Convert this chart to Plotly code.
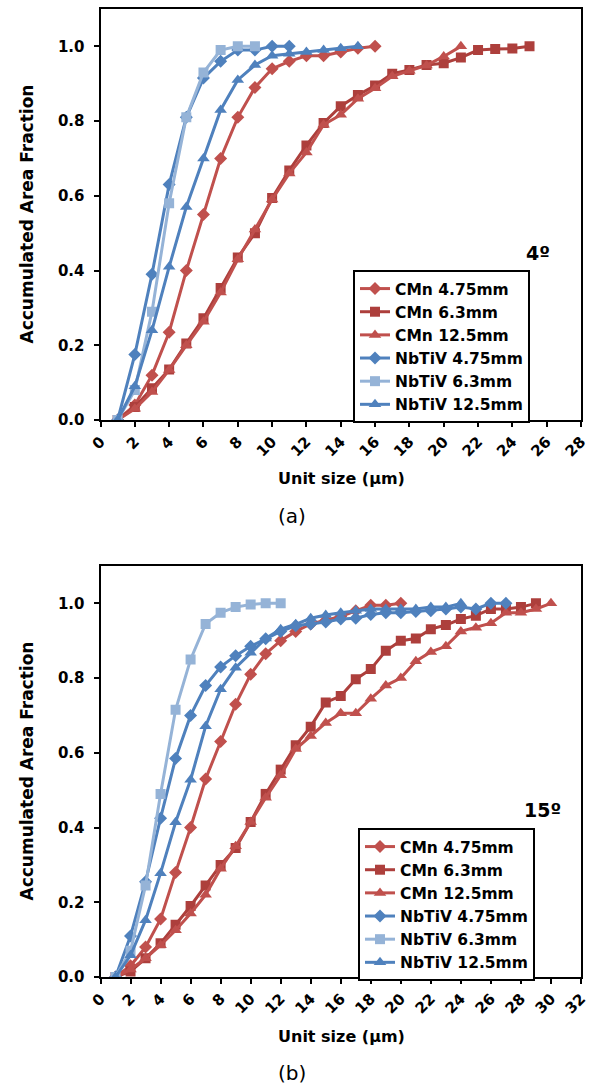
import plotly.graph_objects as go

# ---------------- data (a) 4º ----------------
cmn475_a = [0, 0.04, 0.12, 0.235, 0.40, 0.55, 0.70, 0.81, 0.89, 0.94, 0.96, 0.975, 0.975, 0.985, 0.995, 1.0]
cmn63_a = [0, 0.035, 0.085, 0.135, 0.205, 0.272, 0.353, 0.435, 0.50, 0.594, 0.668, 0.735, 0.795, 0.84,
           0.87, 0.895, 0.927, 0.937, 0.95, 0.955, 0.97, 0.99, 0.993, 0.994, 1.0]
cmn125_a = [0, 0.03, 0.075, 0.134, 0.20, 0.263, 0.341, 0.43, 0.51, 0.59, 0.66, 0.716, 0.79, 0.817, 0.86,
            0.888, 0.92, 0.935, 0.949, 0.973, 1.0]
nb475_a = [0, 0.175, 0.39, 0.63, 0.81, 0.915, 0.96, 0.99, 0.99, 1.0, 1.0]
nb63_a = [0, 0.08, 0.29, 0.58, 0.81, 0.93, 0.99, 1.0, 1.0]
nb125_a = [0, 0.09, 0.24, 0.41, 0.57, 0.70, 0.83, 0.91, 0.95, 0.975, 0.98, 0.985, 0.99, 0.995, 1.0]

# ---------------- data (b) 15º ----------------
cmn475_b = [0, 0.03, 0.08, 0.155, 0.28, 0.40, 0.53, 0.63, 0.73, 0.81, 0.865, 0.90, 0.925, 0.945, 0.955,
            0.965, 0.98, 0.995, 0.995, 1.0]
cmn63_b = [0, 0.015, 0.05, 0.09, 0.14, 0.19, 0.245, 0.30, 0.345, 0.415, 0.49, 0.555, 0.62, 0.67, 0.735,
           0.752, 0.797, 0.824, 0.873, 0.90, 0.906, 0.931, 0.942, 0.958, 0.967, 0.985, 0.985, 0.99, 1.0]
cmn125_b = [0, 0.02, 0.05, 0.085, 0.125, 0.17, 0.22, 0.29, 0.35, 0.415, 0.48, 0.54, 0.61, 0.645, 0.68,
            0.706, 0.706, 0.745, 0.78, 0.80, 0.845, 0.87, 0.885, 0.925, 0.935, 0.947, 0.975, 0.975, 0.985, 1.0]
nb475_b = [0, 0.11, 0.255, 0.425, 0.585, 0.70, 0.78, 0.83, 0.86, 0.885, 0.905, 0.925, 0.94, 0.945, 0.95,
           0.958, 0.96, 0.97, 0.975, 0.975, 0.978, 0.98, 0.985, 0.99, 0.985, 1.0, 1.0]
nb63_b = [0, 0.07, 0.245, 0.49, 0.715, 0.85, 0.945, 0.975, 0.99, 0.997, 1.0, 1.0]
nb125_b = [0, 0.058, 0.152, 0.278, 0.414, 0.528, 0.671, 0.77, 0.828, 0.868, 0.906, 0.931, 0.944, 0.96,
           0.969, 0.975, 0.98, 0.985, 0.985, 0.985, 0.985, 0.99, 0.99, 1.0]

names = ["CMn 4.75mm", "CMn 6.3mm", "CMn 12.5mm", "NbTiV 4.75mm", "NbTiV 6.3mm", "NbTiV 12.5mm"]
colors = ["#C0504D", "#AD3F3C", "#C0504D", "#4F81BD", "#95B3D7", "#4F81BD"]
symbols = ["diamond", "square", "triangle-up", "diamond", "square", "triangle-up"]
msizes = [10, 10, 11, 10, 10, 11]

W, H = 590, 1088
FONT = "DejaVu Sans, Arial, sans-serif"

fig = go.Figure()

sets = [
    ([cmn475_a, cmn63_a, cmn125_a, nb475_a, nb63_a, nb125_a], "x", "y", "legend"),
    ([cmn475_b, cmn63_b, cmn125_b, nb475_b, nb63_b, nb125_b], "x2", "y2", "legend2"),
]
for series, xa, ya, leg in sets:
    for i, ys in enumerate(series):
        fig.add_trace(go.Scatter(
            x=list(range(1, len(ys) + 1)), y=ys, name=names[i],
            mode="lines+markers", xaxis=xa, yaxis=ya, legend=leg,
            line=dict(color=colors[i], width=3),
            marker=dict(symbol=symbols[i], size=msizes[i], color=colors[i]),
        ))

def px_x(p):
    return p / W

def px_y(p):
    return 1 - p / H

xdom = [px_x(100.5), px_x(581)]
axis_common = dict(showline=True, linecolor="black", linewidth=2, mirror=True,
                   ticks="outside", ticklen=5, tickwidth=2, tickcolor="black",
                   showgrid=False, zeroline=False, automargin=False,
                   tickfont=dict(family=FONT, size=15, color="black", weight="bold"))

legfont = dict(family=FONT, size=15.5, color="black", weight="bold")
fig.update_layout(
    width=W, height=H, margin=dict(l=0, r=0, t=0, b=0, autoexpand=False),
    paper_bgcolor="white", plot_bgcolor="white",
    xaxis=dict(domain=xdom, range=[0, 28], dtick=2, tick0=0, tickangle=-45, anchor="y", **axis_common),
    yaxis=dict(domain=[px_y(420), px_y(9)], range=[0, 1.1], dtick=0.2, tick0=0, tickformat=".1f",
               anchor="x", ticklabelstandoff=6, **axis_common),
    xaxis2=dict(domain=xdom, range=[0, 32], dtick=2, tick0=0, tickangle=-45, anchor="y2", **axis_common),
    yaxis2=dict(domain=[px_y(977), px_y(566)], range=[0, 1.1], dtick=0.2, tick0=0, tickformat=".1f",
                anchor="x2", ticklabelstandoff=6, **axis_common),
    legend=dict(x=px_x(353), y=px_y(270), xanchor="left", yanchor="top",
                bordercolor="black", borderwidth=2, bgcolor="white",
                font=legfont, tracegroupgap=0, itemwidth=30),
    legend2=dict(x=px_x(358), y=px_y(828), xanchor="left", yanchor="top",
                 bordercolor="black", borderwidth=2, bgcolor="white",
                 font=legfont, tracegroupgap=0, itemwidth=30),
    showlegend=True,
)

ann = []
bold = dict(family=FONT, size=17, color="black", weight="bold")
for yc in [214.5, 771.5]:
    ann.append(dict(text="Accumulated Area Fraction", x=px_x(26), y=px_y(yc), xref="paper", yref="paper",
                    textangle=-90, showarrow=False, font=bold, xanchor="center", yanchor="middle"))
xt = dict(family=FONT, size=16, color="black", weight="bold")
for yc in [478, 1036]:
    ann.append(dict(text="Unit size (μm)", x=px_x(341), y=px_y(yc), xref="paper", yref="paper",
                    showarrow=False, font=xt, xanchor="center", yanchor="middle"))
for txt, yc in [("(a)", 516), ("(b)", 1073)]:
    ann.append(dict(text=txt, x=px_x(292), y=px_y(yc), xref="paper", yref="paper", showarrow=False,
                    font=dict(family=FONT, size=20, color="black"), xanchor="center", yanchor="middle"))
for txt, xc, yc in [("4º", 538, 253), ("15º", 542, 810)]:
    ann.append(dict(text=txt, x=px_x(xc), y=px_y(yc), xref="paper", yref="paper", showarrow=False,
                    font=dict(family=FONT, size=19, color="black", weight="bold"),
                    xanchor="center", yanchor="middle"))
fig.update_layout(annotations=ann)

fig.write_html("out.html", config={"displayModeBar": False},
               post_script="document.body.style.margin='0px';document.body.style.overflow='hidden';")
